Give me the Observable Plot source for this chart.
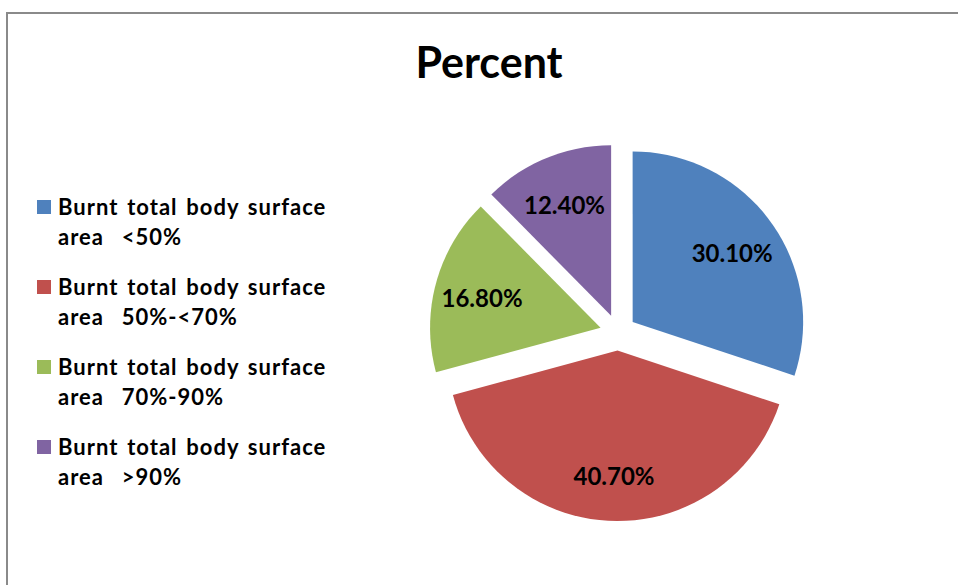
<!DOCTYPE html>
<html>
<head>
<meta charset="utf-8">
<script src="https://cdn.jsdelivr.net/npm/d3@7"></script>
<script src="https://cdn.jsdelivr.net/npm/@observablehq/plot@0.6"></script>
<style>
  html, body { margin: 0; padding: 0; background: #fff; }
  #chart { position: relative; width: 958px; height: 585px; overflow: hidden; font-family: Lato, "Open Sans", sans-serif; }
  #chart svg { position: absolute; left: 0; top: 0; }
  #frame { position: absolute; left: 6px; top: 12px; width: 1200px; height: 1200px;
           border-left: 2px solid #8a8a8a; border-top: 2px solid #8a8a8a; box-sizing: border-box; }
  #title { position: absolute; left: 0; top: 40px; width: 978px; text-align: center;
           font-size: 43px; line-height: 43px; font-weight: 700; color: #000; }
  #legend { position: absolute; left: 37px; top: 192px; }
  .item { position: relative; height: 60px; margin-bottom: 20px; padding-left: 21px;
          font-size: 22px; line-height: 30px; font-weight: 700; color: #000; white-space: pre;
          letter-spacing: 1px; word-spacing: 2.5px; }
  .swatch { position: absolute; left: 0; top: 8px; width: 14px; height: 14px; }
</style>
</head>
<body>
<div id="chart">
  <div id="title"></div>
  <div id="legend"></div>
</div>
<script>
// Share of patients by burnt total body surface area
const title = "Percent";
const categories = [
  "Burnt total body surface area  <50%",
  "Burnt total body surface area  50%-<70%",
  "Burnt total body surface area  70%-90%",
  "Burnt total body surface area  >90%"
];
const values = [30.1, 40.7, 16.8, 12.4];
const colors = ["#4f81bd", "#c0504d", "#9bbb59", "#8064a2"];

// pie geometry (unit radius), slices pulled out from the centre
const explode = 0.106;
const labelRadius = 0.72;
const steps = 120;

const arcs = d3.pie().sort(null).value(d => d)(values);

const outline = [];
const labels = [];
arcs.forEach((a, i) => {
  const mid = (a.startAngle + a.endAngle) / 2;
  const ox = explode * Math.sin(mid), oy = explode * Math.cos(mid);
  outline.push({key: categories[i], x: ox, y: oy});
  const n = Math.max(2, Math.ceil(steps * (a.endAngle - a.startAngle) / (2 * Math.PI)));
  for (let k = 0; k <= n; k++) {
    const t = a.startAngle + (a.endAngle - a.startAngle) * k / n;
    outline.push({key: categories[i], x: ox + Math.sin(t), y: oy + Math.cos(t)});
  }
  labels.push({
    key: categories[i],
    text: values[i].toFixed(2) + "%",
    x: ox + labelRadius * Math.sin(mid),
    y: oy + labelRadius * Math.cos(mid)
  });
});

const cx = 617.5, cy = 332, r = 170.5;

const plot = Plot.plot({
  width: 958,
  height: 585,
  margin: 0,
  style: {background: "transparent"},
  x: {domain: [-1, 1], range: [cx - r, cx + r], axis: null},
  y: {domain: [-1, 1], range: [cy + r, cy - r], axis: null},
  color: {domain: categories, range: colors},
  marks: [
    Plot.line(outline, {x: "x", y: "y", z: "key", fill: "key", stroke: "none", curve: "linear-closed"}),
    Plot.text(labels, {
      x: "x", y: "y", text: "text", dy: 4,
      fontSize: 24, fontWeight: 700, fontFamily: "Lato, 'Open Sans', sans-serif", fill: "#000"
    })
  ]
});

const chart = document.getElementById("chart");
chart.insertBefore(plot, chart.firstChild);
const frame = document.createElement("div");
frame.id = "frame";
chart.appendChild(frame);

document.getElementById("title").textContent = title;

const legend = document.getElementById("legend");
categories.forEach((c, i) => {
  const item = document.createElement("div");
  item.className = "item";
  const sw = document.createElement("div");
  sw.className = "swatch";
  sw.style.background = colors[i];
  item.appendChild(sw);
  const cut = c.indexOf(" area");
  item.appendChild(document.createTextNode(c.slice(0, cut) + "\n" + c.slice(cut + 1)));
  legend.appendChild(item);
});
</script>
</body>
</html>
